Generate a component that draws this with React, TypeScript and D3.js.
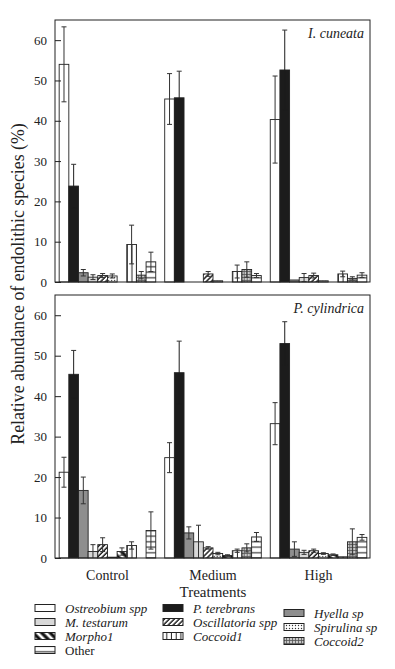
import { useEffect, useRef } from "react";
import * as d3 from "d3";

const treatments = ["Control", "Medium", "High"];
const species = [
	"Ostreobium spp", "P. terebrans", "Hyella sp", "M. testarum", "Oscillatoria spp",
	"Spirulina sp", "Morpho1", "Coccoid1", "Coccoid2", "Other",
];
const yTicks = [0, 10, 20, 30, 40, 50, 60];

// I. cuneata (top panel), means and SE per species, in species order
const cuneataControl = [54.0, 23.8, 2.3, 1.2, 1.6, 1.5, 0, 9.3, 1.7, 5.0];
const cuneataControlErr = [9.3, 5.4, 0.8, 0.6, 0.5, 0.5, 0, 4.8, 0.9, 2.4];
const cuneataMedium = [45.4, 45.7, 0, 0, 2.0, 0.3, 0, 2.6, 3.1, 1.6];
const cuneataMediumErr = [6.3, 6.6, 0, 0, 0.6, 0, 0, 1.6, 1.9, 0.5];
const cuneataHigh = [40.3, 52.6, 0.5, 1.1, 1.6, 0.3, 0, 2.0, 0.9, 1.7];
const cuneataHighErr = [10.8, 9.9, 0, 1.0, 0.6, 0, 0, 0.7, 0.4, 0.6];

// P. cylindrica (bottom panel)
const cylControl = [21.2, 45.4, 16.7, 1.6, 3.3, 0.2, 1.6, 3.1, 0, 6.8];
const cylControlErr = [3.7, 5.9, 3.3, 1.7, 1.7, 0, 0.9, 0.9, 0, 4.6];
const cylMedium = [24.8, 45.8, 6.2, 4.0, 2.5, 1.1, 0.6, 1.8, 2.5, 5.2];
const cylMediumErr = [3.7, 7.8, 1.5, 4.1, 0.3, 0.3, 0.2, 0.4, 1.0, 1.1];
const cylHigh = [33.2, 53.0, 2.2, 1.4, 1.8, 1.1, 0.8, 0.3, 4.0, 5.1];
const cylHighErr = [5.2, 5.4, 1.8, 0.5, 0.4, 0.2, 0.2, 0, 3.2, 0.7];

// legend layout: columns of species indices
const legendCols = [[0, 3, 6, 9], [1, 4, 7], [2, 5, 8]];

const fills: Record<string, string> = {
	"Ostreobium spp": "#ffffff",
	"P. terebrans": "#1c1c1c",
	"Hyella sp": "#8e8e8e",
	"M. testarum": "#d8d8d8",
	"Oscillatoria spp": "url(#p-hatch)",
	"Spirulina sp": "url(#p-dots)",
	"Morpho1": "url(#p-morpho)",
	"Coccoid1": "url(#p-vert)",
	"Coccoid2": "url(#p-grid)",
	"Other": "url(#p-horiz)",
};

const FONT = "Liberation Serif, DejaVu Serif, serif";

export default function App() {
	const ref = useRef<SVGSVGElement>(null);

	useEffect(() => {
		const svg = d3.select(ref.current);
		svg.selectAll("*").remove();

		const defs = svg.append("defs");

		// Fill patterns
		const hatch = defs.append("pattern").attr("id", "p-hatch")
			.attr("patternUnits", "userSpaceOnUse").attr("width", 3.5).attr("height", 3.5)
			.attr("patternTransform", "rotate(45)");
		hatch.append("rect").attr("width", 3.5).attr("height", 3.5).attr("fill", "#fff");
		hatch.append("line").attr("x1", 1).attr("x2", 1).attr("y1", 0).attr("y2", 3.5)
			.attr("stroke", "#111").attr("stroke-width", 1.4);

		const dots = defs.append("pattern").attr("id", "p-dots")
			.attr("patternUnits", "userSpaceOnUse").attr("width", 3).attr("height", 3);
		dots.append("rect").attr("width", 3).attr("height", 3).attr("fill", "#fff");
		dots.append("circle").attr("cx", 1.5).attr("cy", 1.5).attr("r", 0.7).attr("fill", "#333");

		const morpho = defs.append("pattern").attr("id", "p-morpho")
			.attr("patternUnits", "userSpaceOnUse").attr("width", 6).attr("height", 6)
			.attr("patternTransform", "rotate(-45)");
		morpho.append("rect").attr("width", 6).attr("height", 6).attr("fill", "#fff");
		morpho.append("line").attr("x1", 2).attr("x2", 2).attr("y1", 0).attr("y2", 6)
			.attr("stroke", "#111").attr("stroke-width", 3.2);

		const vert = defs.append("pattern").attr("id", "p-vert")
			.attr("patternUnits", "userSpaceOnUse").attr("width", 4.7).attr("height", 4);
		vert.append("rect").attr("width", 4.7).attr("height", 4).attr("fill", "#fff");
		vert.append("line").attr("x1", 2.3).attr("x2", 2.3).attr("y1", 0).attr("y2", 4)
			.attr("stroke", "#222").attr("stroke-width", 1);

		const grid = defs.append("pattern").attr("id", "p-grid")
			.attr("patternUnits", "userSpaceOnUse").attr("width", 3).attr("height", 3);
		grid.append("rect").attr("width", 3).attr("height", 3).attr("fill", "#c8c8c8");
		grid.append("path").attr("d", "M1.5,0V3M0,1.5H3")
			.attr("stroke", "#555").attr("stroke-width", 0.8).attr("fill", "none");

		const horiz = defs.append("pattern").attr("id", "p-horiz")
			.attr("patternUnits", "userSpaceOnUse").attr("width", 4).attr("height", 5.5);
		horiz.append("rect").attr("width", 4).attr("height", 5.5).attr("fill", "#fff");
		horiz.append("line").attr("x1", 0).attr("x2", 4).attr("y1", 2.7).attr("y2", 2.7)
			.attr("stroke", "#111").attr("stroke-width", 1);

		// Scales shared by both panels
		const left = 55, right = 370;
		const x0 = d3.scaleBand<string>()
			.domain(treatments)
			.range([56, right])
			.paddingInner(0.085)
			.paddingOuter(0.03);
		const x1 = d3.scaleBand<string>()
			.domain(species)
			.range([0, x0.bandwidth()]);

		const panels = [
			{
				label: "I. cuneata", top: 20, bottom: 282,
				means: [cuneataControl, cuneataMedium, cuneataHigh],
				errs: [cuneataControlErr, cuneataMediumErr, cuneataHighErr],
			},
			{
				label: "P. cylindrica", top: 295, bottom: 558,
				means: [cylControl, cylMedium, cylHigh],
				errs: [cylControlErr, cylMediumErr, cylHighErr],
			},
		];

		panels.forEach(p => {
			const y = d3.scaleLinear().domain([0, 65]).range([p.bottom, p.top]);
			const g = svg.append("g");

			// Bars
			treatments.forEach((t, ti) => {
				const grp = g.append("g").attr("transform", `translate(${x0(t)},0)`);
				species.forEach((s, si) => {
					const v = p.means[ti][si];
					if (v <= 0) return;
					grp.append("rect")
						.attr("x", x1(s)!)
						.attr("y", y(v))
						.attr("width", x1.bandwidth())
						.attr("height", y(0) - y(v))
						.attr("fill", fills[s])
						.attr("stroke", "#222")
						.attr("stroke-width", 0.9);
				});
				// Error bars
				species.forEach((s, si) => {
					const v = p.means[ti][si];
					const e = p.errs[ti][si];
					if (e <= 0) return;
					const cx = x1(s)! + x1.bandwidth() / 2;
					const lo = Math.max(0, v - e);
					const col = s === "P. terebrans" ? "#1c1c1c" : "#333";
					grp.append("line")
						.attr("x1", cx).attr("x2", cx)
						.attr("y1", y(lo)).attr("y2", y(v + e))
						.attr("stroke", col).attr("stroke-width", 1);
					grp.append("line")
						.attr("x1", cx - 2.5).attr("x2", cx + 2.5)
						.attr("y1", y(v + e)).attr("y2", y(v + e))
						.attr("stroke", "#333").attr("stroke-width", 1);
					if (v - e > 0) {
						grp.append("line")
							.attr("x1", cx - 2.5).attr("x2", cx + 2.5)
							.attr("y1", y(lo)).attr("y2", y(lo))
							.attr("stroke", col).attr("stroke-width", 1);
					}
				});
			});

			// Frame
			g.append("rect")
				.attr("x", left).attr("y", p.top)
				.attr("width", right - left).attr("height", p.bottom - p.top)
				.attr("fill", "none").attr("stroke", "#222").attr("stroke-width", 1);

			// Y axis (ticks pointing inward)
			const yAxis = g.append("g")
				.attr("transform", `translate(${left},0)`)
				.call(d3.axisRight(y).tickValues(yTicks).tickSize(6).tickFormat(d3.format("d")));
			yAxis.attr("font-family", null).attr("font-size", null);
			yAxis.select(".domain").remove();
			yAxis.selectAll(".tick line").attr("stroke", "#222");
			yAxis.selectAll(".tick text")
				.attr("x", -8)
				.attr("text-anchor", "end")
				.style("font-family", FONT)
				.style("font-size", "13px")
				.attr("fill", "#222");

			// Panel label
			g.append("text")
				.attr("x", right - 6).attr("y", p.top + 18)
				.attr("text-anchor", "end")
				.style("font-family", FONT).style("font-style", "italic")
				.style("font-size", "14px").attr("fill", "#222")
				.text(p.label);
		});

		// X category labels under the bottom panel
		treatments.forEach(t => {
			svg.append("text")
				.attr("x", x0(t)! + x0.bandwidth() / 2)
				.attr("y", 580)
				.attr("text-anchor", "middle")
				.style("font-family", FONT).style("font-size", "14px").attr("fill", "#222")
				.text(t);
		});

		svg.append("text")
			.attr("x", 213).attr("y", 597)
			.attr("text-anchor", "middle")
			.style("font-family", FONT).style("font-size", "15px").attr("fill", "#222")
			.text("Treatments");

		// Y axis title
		svg.append("text")
			.attr("transform", "translate(24,284) rotate(-90)")
			.attr("text-anchor", "middle")
			.style("font-family", FONT).style("font-size", "17.8px").attr("fill", "#222")
			.text("Relative abundance of endolithic species (%)");

		// Legend
		const colX = [35, 163, 284];
		const colY = [608, 608, 613];
		legendCols.forEach((col, ci) => {
			col.forEach((si, ri) => {
				const s = species[si];
				const ry = colY[ci] + ri * 14;
				svg.append("rect")
					.attr("x", colX[ci]).attr("y", ry - 3.5)
					.attr("width", 20).attr("height", 7)
					.attr("fill", fills[s]).attr("stroke", "#222").attr("stroke-width", 1);
				svg.append("text")
					.attr("x", colX[ci] + 30).attr("y", ry + 4.5)
					.style("font-family", FONT)
					.style("font-style", s === "Other" ? "normal" : "italic")
					.style("font-size", "13px").attr("fill", "#222")
					.text(s);
			});
		});
	}, []);

	return (
		<svg
			ref={ref}
			width={395}
			height={669}
			style={{ position: "absolute", left: 0, top: 0, background: "#fff" }}
		/>
	);
}
